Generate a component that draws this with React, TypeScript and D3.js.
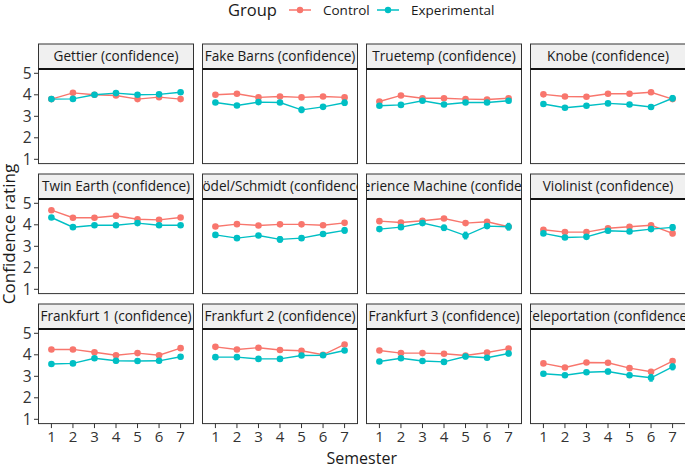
import React from 'react';
import * as d3 from 'd3';

// panel titles, row by row
const panels = [
  'Gettier (confidence)', 'Fake Barns (confidence)', 'Truetemp (confidence)', 'Knobe (confidence)',
  'Twin Earth (confidence)', 'Gödel/Schmidt (confidence)', 'Experience Machine (confidence)', 'Violinist (confidence)',
  'Frankfurt 1 (confidence)', 'Frankfurt 2 (confidence)', 'Frankfurt 3 (confidence)', 'Teleportation (confidence)',
];

const semesters = [1, 2, 3, 4, 5, 6, 7];
const yTicks = [1, 2, 3, 4, 5];

const controlMeans = [
  [3.80, 4.09, 4.00, 3.97, 3.80, 3.89, 3.80],
  [4.00, 4.05, 3.88, 3.92, 3.88, 3.92, 3.88],
  [3.69, 3.97, 3.84, 3.84, 3.80, 3.78, 3.84],
  [4.02, 3.92, 3.91, 4.05, 4.05, 4.12, 3.80],
  [4.68, 4.33, 4.33, 4.42, 4.26, 4.23, 4.34],
  [3.92, 4.03, 3.97, 4.02, 4.02, 3.98, 4.09],
  [4.17, 4.11, 4.19, 4.29, 4.08, 4.14, 3.91],
  [3.77, 3.66, 3.66, 3.84, 3.91, 3.98, 3.60],
  [4.25, 4.25, 4.12, 3.98, 4.08, 3.98, 4.31],
  [4.37, 4.25, 4.33, 4.22, 4.19, 4.00, 4.48],
  [4.20, 4.08, 4.08, 4.05, 3.97, 4.11, 4.29],
  [3.60, 3.41, 3.64, 3.63, 3.38, 3.21, 3.71],
];

const experimentalMeans = [
  [3.80, 3.81, 4.00, 4.08, 4.00, 4.02, 4.12],
  [3.64, 3.50, 3.66, 3.64, 3.30, 3.44, 3.63],
  [3.49, 3.53, 3.72, 3.55, 3.64, 3.64, 3.72],
  [3.57, 3.40, 3.49, 3.60, 3.55, 3.43, 3.84],
  [4.34, 3.89, 3.98, 3.98, 4.08, 3.98, 3.98],
  [3.53, 3.38, 3.50, 3.32, 3.38, 3.57, 3.74],
  [3.80, 3.89, 4.08, 3.86, 3.50, 3.94, 3.91],
  [3.60, 3.41, 3.44, 3.72, 3.69, 3.80, 3.88],
  [3.57, 3.60, 3.84, 3.72, 3.71, 3.72, 3.91],
  [3.89, 3.89, 3.81, 3.81, 3.97, 3.98, 4.20],
  [3.69, 3.84, 3.71, 3.67, 3.92, 3.86, 4.06],
  [3.12, 3.05, 3.19, 3.22, 3.05, 2.93, 3.44],
];

const controlSE = [
  [0.05, 0.06, 0.05, 0.05, 0.06, 0.05, 0.06],
  [0.05, 0.05, 0.05, 0.05, 0.05, 0.05, 0.06],
  [0.05, 0.05, 0.05, 0.05, 0.05, 0.05, 0.06],
  [0.05, 0.05, 0.05, 0.05, 0.05, 0.06, 0.07],
  [0.05, 0.05, 0.05, 0.05, 0.05, 0.05, 0.06],
  [0.05, 0.05, 0.05, 0.05, 0.05, 0.05, 0.07],
  [0.05, 0.05, 0.05, 0.05, 0.06, 0.06, 0.10],
  [0.05, 0.05, 0.05, 0.05, 0.05, 0.06, 0.10],
  [0.05, 0.05, 0.05, 0.05, 0.05, 0.05, 0.06],
  [0.05, 0.05, 0.05, 0.05, 0.05, 0.06, 0.07],
  [0.05, 0.05, 0.05, 0.05, 0.06, 0.05, 0.06],
  [0.06, 0.06, 0.06, 0.06, 0.06, 0.10, 0.08],
];

const experimentalSE = [
  [0.06, 0.06, 0.06, 0.07, 0.06, 0.06, 0.08],
  [0.07, 0.07, 0.07, 0.07, 0.12, 0.09, 0.12],
  [0.07, 0.07, 0.07, 0.08, 0.07, 0.07, 0.08],
  [0.07, 0.07, 0.07, 0.07, 0.07, 0.09, 0.12],
  [0.07, 0.07, 0.07, 0.07, 0.07, 0.07, 0.07],
  [0.07, 0.07, 0.07, 0.12, 0.10, 0.08, 0.12],
  [0.08, 0.08, 0.08, 0.12, 0.15, 0.10, 0.15],
  [0.07, 0.07, 0.08, 0.08, 0.08, 0.08, 0.12],
  [0.07, 0.07, 0.07, 0.09, 0.09, 0.08, 0.09],
  [0.07, 0.07, 0.07, 0.08, 0.08, 0.08, 0.08],
  [0.07, 0.07, 0.07, 0.10, 0.10, 0.08, 0.10],
  [0.08, 0.08, 0.08, 0.10, 0.09, 0.15, 0.13],
];

const groups = [
  { name: 'Control', color: '#F8766D', means: controlMeans, se: controlSE },
  { name: 'Experimental', color: '#00BFC4', means: experimentalMeans, se: experimentalSE },
];

const W = 685;
const H = 465;
const FONT = '"Open Sans", "Noto Sans", sans-serif';

// layout
const left0 = 38.5;
const top0 = 44;
const colPitch = 164;
const rowPitch = 130;
const panelW = 155;
const stripH = 25;
const panelH = 94.6;

const x = d3.scaleLinear().domain([0.4, 7.6]).range([0, panelW]);
const y = d3.scaleLinear().domain([0.8, 5.2]).range([panelH, 0]);

const line = d3.line<number>()
  .x((_, i) => x(semesters[i]))
  .y(d => y(d));

const App: React.FC = () => {
  return (
    <svg width={W} height={H} style={{ display: 'block', position: 'absolute', left: 0, top: 0 }} fontFamily={FONT}>
      <rect width={W} height={H} fill="#fff" />
      <defs>
        {panels.map((_, i) => (
          <clipPath key={i} id={`strip-${i}`}>
            <rect x={0} y={0} width={panelW} height={stripH} />
          </clipPath>
        ))}
      </defs>

      {/* legend */}
      <g transform="translate(0,10)">
        <text x={228} y={0} dy="0.35em" fontSize={16.5} fill="#1a1a1a">Group</text>
        {groups.map((g, k) => {
          const kx = k === 0 ? 289 : 377;
          return (
            <g key={g.name}>
              <line x1={kx} x2={kx + 22} y1={0} y2={0} stroke={g.color} strokeWidth={1.5} />
              <circle cx={kx + 11} cy={0} r={3.2} fill={g.color} />
              <text x={kx + 34} y={0} dy="0.35em" fontSize={13.5} fill="#1a1a1a">{g.name}</text>
            </g>
          );
        })}
      </g>

      {panels.map((title, i) => {
        const col = i % 4;
        const row = Math.floor(i / 4);
        const px = left0 + col * colPitch;
        const py = top0 + row * rowPitch;
        return (
          <g key={title} transform={`translate(${px},${py})`}>
            {/* strip */}
            <rect x={0} y={0} width={panelW} height={stripH} fill="#F0F0F0" stroke="#333" strokeWidth={1} />
            <g clipPath={`url(#strip-${i})`}>
              <text x={panelW / 2} y={stripH / 2} dy="0.35em" textAnchor="middle" fontSize={13.6} fill="#1a1a1a">
                {title}
              </text>
            </g>
            <g transform={`translate(0,${stripH})`}>
              <rect x={0} y={0} width={panelW} height={panelH} fill="#fff" />
              {groups.map(g => {
                const m = g.means[i];
                const s = g.se[i];
                return (
                  <g key={g.name}>
                    <path d={line(m) || ''} fill="none" stroke={g.color} strokeWidth={1.4} />
                    {m.map((v, j) => (
                      <g key={j} stroke={g.color} strokeWidth={1.4}>
                        <line x1={x(semesters[j])} x2={x(semesters[j])} y1={y(v - s[j])} y2={y(v + s[j])} />
                        <line x1={x(semesters[j] - 0.08)} x2={x(semesters[j] + 0.08)} y1={y(v - s[j])} y2={y(v - s[j])} />
                        <line x1={x(semesters[j] - 0.08)} x2={x(semesters[j] + 0.08)} y1={y(v + s[j])} y2={y(v + s[j])} />
                      </g>
                    ))}
                    {m.map((v, j) => (
                      <circle key={j} cx={x(semesters[j])} cy={y(v)} r={3.3} fill={g.color} />
                    ))}
                  </g>
                );
              })}
              <rect x={0} y={0} width={panelW} height={panelH} fill="none" stroke="#333" strokeWidth={1} />
              <line x1={0} x2={panelW} y1={0} y2={0} stroke="#111" strokeWidth={2} />

              {col === 0 && yTicks.map(t => (
                <g key={t} transform={`translate(0,${y(t)})`}>
                  <line x1={-4.5} x2={0} stroke="#333" strokeWidth={1} />
                  <text x={-7} dy="0.36em" textAnchor="end" fontSize={15.5} fill="#333">{t}</text>
                </g>
              ))}
              {row === 2 && semesters.map(t => (
                <g key={t} transform={`translate(${x(t)},${panelH})`}>
                  <line y1={0} y2={4.5} stroke="#333" strokeWidth={1} />
                  <text y={18.5} textAnchor="middle" fontSize={15} fill="#333">{t}</text>
                </g>
              ))}
            </g>
          </g>
        );
      })}

      {/* axis titles */}
      <text x={(left0 + W) / 2} y={463.5} textAnchor="middle" fontSize={16} fill="#1a1a1a">Semester</text>
      <text transform={`translate(15,${(top0 + 424) / 2}) rotate(-90)`} textAnchor="middle" fontSize={17} fill="#1a1a1a">
        Confidence rating
      </text>
    </svg>
  );
};

export default App;
